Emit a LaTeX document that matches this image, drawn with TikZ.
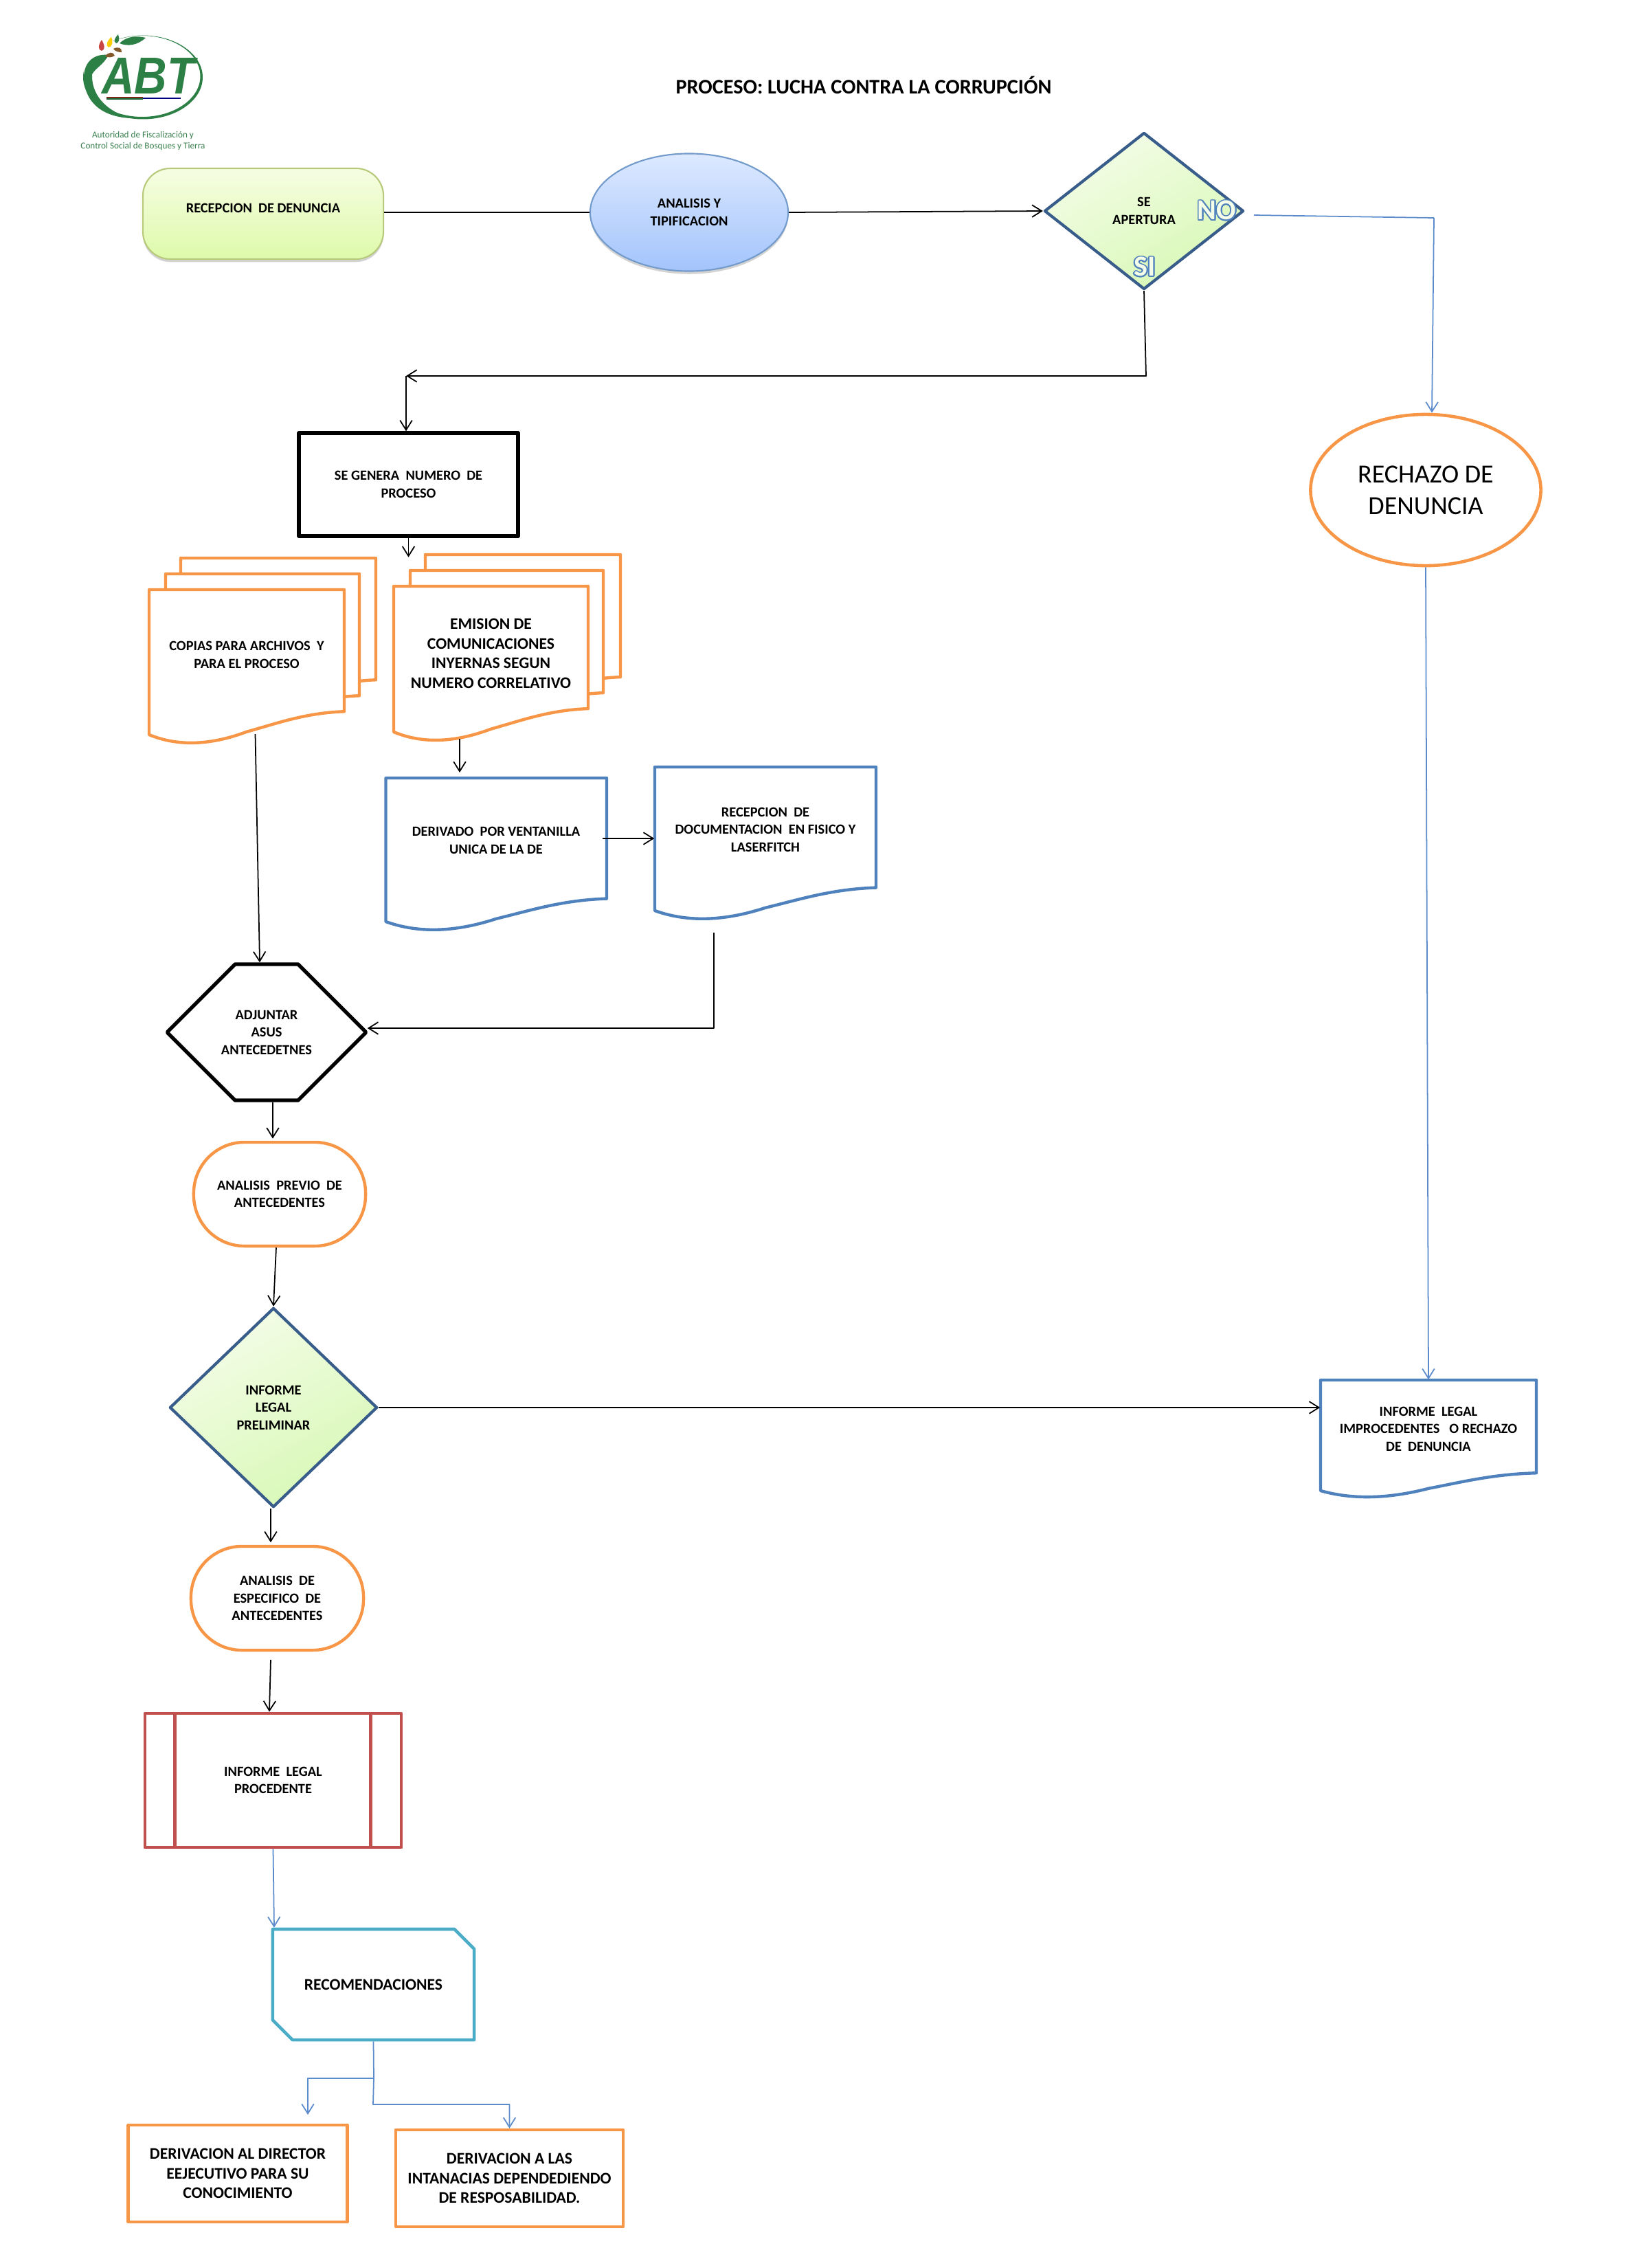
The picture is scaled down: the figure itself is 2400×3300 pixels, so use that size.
\documentclass[tikz,border=0pt]{standalone}
\usepackage{fontspec}
\setmainfont{Carlito}
\newfontfamily\logofont{Liberation Sans}
\usepackage[copies]{contour}
\usetikzlibrary{arrows.meta,backgrounds,shapes.geometric,shapes.misc,shadows}
\definecolor{naranja}{HTML}{F79646}
\definecolor{azuldoc}{HTML}{4F81BD}
\definecolor{azuldiam}{HTML}{385D8A}
\definecolor{azulflecha}{HTML}{5B8BCB}
\definecolor{rojobox}{HTML}{C0504D}
\definecolor{celeste}{HTML}{4BACC6}
\definecolor{verdelogo}{HTML}{2C7F45}
\definecolor{diamclaro}{HTML}{F4FDE8}
\definecolor{diamverde}{HTML}{D8F8B6}
\definecolor{recepclaro}{HTML}{F6FDE3}
\definecolor{recepverde}{HTML}{DEFAAA}
\definecolor{recepborde}{HTML}{B7C97A}
\definecolor{elipclaro}{HTML}{DDE9FF}
\definecolor{elipazul}{HTML}{A3C4FB}
\contourlength{.5pt}
\tikzset{
	texto/.style={font=\fontsize{5.8pt}{7.25pt}\selectfont\bfseries,align=center,inner sep=0pt},
	textog/.style={texto,font=\fontsize{6.7pt}{8.15pt}\selectfont\bfseries},
	caja/.style={texto,rectangle,line width=1.25pt,minimum width=#1},
	hoja/.style={texto,rectangle,minimum width=#1},
	decision/.style={texto,diamond,draw=azuldiam,line width=1.2pt,left color=diamclaro,right color=diamverde,shading angle=30},
	flujo/.style={black,line width=.5pt,->},
	flujoa/.style={azulflecha,line width=.5pt,->},
	marca/.style={font=\fontsize{12pt}{14pt}\selectfont\bfseries,inner sep=0pt}
}
% hoja con borde ondulado abajo: esquina, ancho, alto, color
\newcommand{\hojapath}[4]{\draw[#4,line width=1.25pt,fill=white,line join=round,shift={#1},x=#2*0.01cm,y=-#3*0.01cm]
	(0,0)--(1,0)--(1,.84) .. controls (.8,.85) and (.66,.92) .. (.5,.98) .. controls (.36,1.05) and (.18,1.1) .. (0,1)--cycle;}
\begin{document}
\begin{tikzpicture}[x=0.01cm,y=-0.01cm,line join=round,>={Straight Barb[length=4pt,width=5pt]}]
	\useasboundingbox (0,0) rectangle (2400,3300);
	%logo
	\fill[verdelogo,even odd rule] (208,112.5) ellipse (87 and 61) (207,111) ellipse (84.5 and 59);
	\fill[white] (122,60) rectangle (186,108);
	\fill[verdelogo] (174,63) .. controls (185,52) and (200,52) .. (212,55) .. controls (200,66) and (186,68) .. (174,63);
	\fill[verdelogo] (122,110) .. controls (124,85) and (142,78) .. (158,80) .. controls (150,95) and (140,98) .. (134,108) .. controls (133,135) and (150,160) .. (190,172) .. controls (150,170) and (122,150) .. (122,110);
	\fill[verdelogo] (141,89) ellipse (6 and 5);
	\fill[rojobox!85!red] (148,58) .. controls (152,65) and (154,72) .. (148,74) .. controls (142,73) and (143,65) .. (148,58);
	\fill[yellow!65!orange] (162,54) .. controls (165,60) and (164,68) .. (158,69) .. controls (153,67) and (156,59) .. (162,54);
	\fill[verdelogo] (172,50) .. controls (174,56) and (174,62) .. (169,63) .. controls (164,60) and (168,54) .. (172,50);
	\fill[brown!70!black] (153,82) .. controls (158,75) and (165,75) .. (167,81) .. controls (162,84) and (158,84) .. (153,82);
	\fill[brown!70!black] (165,71) .. controls (172,67) and (178,70) .. (177,76) .. controls (172,76) and (168,75) .. (165,71);
	\fill[verdelogo!80!black] (155,141) rectangle (208,145);
	\fill[red!70!black] (155,141) rectangle (208,142.5);
	\fill[blue!50!black] (208,142) rectangle (263,144);
	\node[text=verdelogo,inner sep=0pt] (logo) at (216,110) {\logofont\fontsize{21.5pt}{22pt}\selectfont\bfseries\itshape\scalebox{.87}[1]{ABT}};
	\node[text=verdelogo!85!gray,align=center,inner sep=0pt,font=\fontsize{3.75pt}{4.5pt}\selectfont] (logotxt) at (208,205) {Autoridad de Fiscalización y\\Control Social de Bosques y Tierra};
	\node[inner sep=0pt,font=\fontsize{8.6pt}{10pt}\selectfont\bfseries] (titulo) at (1257,124) {PROCESO: LUCHA CONTRA LA CORRUPCIÓN};
	%fila superior
	\node[texto,rectangle,rounded corners=.4cm,draw=recepborde,line width=.6pt,top color=recepclaro,bottom color=recepverde,minimum width=3.5cm,minimum height=1.32cm,drop shadow={shadow xshift=0pt,shadow yshift=-1.2pt,opacity=.35}] (recep) at (383,311) {\raisebox{4.5pt}{RECEPCION\ \ DE DENUNCIA}};
	\node[texto,ellipse,draw=azuldoc!80,line width=.6pt,top color=elipclaro,bottom color=elipazul,minimum width=2.88cm,minimum height=1.71cm,drop shadow={shadow xshift=0pt,shadow yshift=-1.2pt,opacity=.35}] (analisis) at (1003,309) {ANALISIS Y\\TIPIFICACION};
	\node[decision,minimum width=2.9cm,minimum height=2.28cm,shape aspect=1.27] (apertura) at (1665,307) {SE\\APERTURA};
	\node[marca] (marcano) at (1771,307) {\contour{azuldoc}{\textcolor{diamclaro}{NO}}};
	\node[marca] (marcasi) at (1666,389) {\contour{azuldoc}{\textcolor{diamclaro}{SI}}};
	\node[texto,ellipse,draw=naranja,line width=1.3pt,minimum width=3.35cm,minimum height=2.2cm,font=\fontsize{10.8pt}{13pt}\selectfont] (rechazo) at (2075,713) {RECHAZO DE\\DENUNCIA};
	%centro
	\node[caja=3.19cm,draw=black,line width=1.5pt,minimum height=1.5cm] (numero) at (594.5,705) {SE GENERA\ \ NUMERO\ \ DE\\PROCESO};
	\begin{pgfonlayer}{background}
		\foreach \px/\py/\pw/\ph in {263/812/284/211,241/835/282/211,619/807/284/212,597/830/281/212}
			\hojapath{(\px,\py)}{\pw}{\ph}{naranja};
		\hojapath{(217,858)}{284}{211}{naranja}
		\hojapath{(573,853)}{283}{212}{naranja}
		\hojapath{(561.5,1132)}{321.5}{209}{azuldoc}
		\hojapath{(953,1116)}{322}{209}{azuldoc}
		\hojapath{(1922,2008)}{314}{161}{azuldoc}
	\end{pgfonlayer}
	\node[hoja=2.84cm,minimum height=1.9cm] (copias) at (359,953) {COPIAS PARA ARCHIVOS\ \ Y\\PARA EL PROCESO};
	\node[hoja=2.83cm,minimum height=1.96cm,textog] (emision) at (714.5,951) {EMISION DE\\COMUNICACIONES\\INYERNAS SEGUN\\NUMERO CORRELATIVO};
	\node[hoja=3.215cm,minimum height=1.82cm] (ventanilla) at (722,1223) {DERIVADO\ \ POR VENTANILLA\\UNICA DE LA DE};
	\node[hoja=3.22cm,minimum height=1.82cm] (laser) at (1114,1207) {RECEPCION\ \ DE\\DOCUMENTACION\ \ EN FISICO Y\\LASERFITCH};
	\node[hoja=3.14cm,minimum height=1.42cm] (improc) at (2079,2079) {INFORME\ \ LEGAL\\IMPROCEDENTES\ \ \ O RECHAZO\\DE\ \ DENUNCIA};
	%columna izquierda
	\node[texto,chamfered rectangle,chamfered rectangle xsep=.59cm,chamfered rectangle ysep=.99cm,draw=black,line width=1.5pt,minimum width=2.88cm,minimum height=1.98cm] (adjuntar) at (388,1502) {ADJUNTAR\\ASUS\\ANTECEDETNES};
	\node[caja=2.5cm,draw=naranja,rounded corners=.74cm,minimum height=1.51cm] (previo) at (407,1737.5) {ANALISIS\ \ PREVIO\ \ DE\\ANTECEDENTES};
	\node[decision,minimum width=3.02cm,minimum height=2.9cm,shape aspect=1.04] (preliminar) at (398,2048) {INFORME\\LEGAL\\PRELIMINAR};
	\node[caja=2.51cm,draw=naranja,rounded corners=.74cm,minimum height=1.51cm] (especifico) at (403.5,2325.5) {ANALISIS\ \ DE\\ESPECIFICO\ \ DE\\ANTECEDENTES};
	\node[caja=3.73cm,draw=rojobox,line width=1.3pt,minimum height=1.95cm] (procedente) at (397.5,2590.5) {INFORME\ \ LEGAL\\PROCEDENTE};
	\draw[rojobox,line width=1.3pt] (procedente.north west)++(46,0)--++(0,195) (procedente.north east)++(-47,0)--++(0,195);
	\node[caja=2.93cm,chamfered rectangle,chamfered rectangle xsep=.215cm,chamfered rectangle ysep=.21cm,chamfered rectangle corners={north east,south west},draw=celeste,line width=1.3pt,minimum height=1.61cm,font=\fontsize{6.7pt}{8.15pt}\selectfont\bfseries] (recomienda) at (543.5,2887.5) {RECOMENDACIONES};
	\node[caja=3.185cm,textog,draw=naranja,minimum height=1.41cm] (director) at (346,3162.5) {DERIVACION AL DIRECTOR\\EEJECUTIVO PARA SU\\CONOCIMIENTO};
	\node[caja=3.31cm,textog,draw=naranja,minimum height=1.41cm] (instancias) at (741.5,3169.5) {DERIVACION A LAS\\INTANACIAS DEPENDEDIENDO\\DE RESPOSABILIDAD.};
	%extremos libres
	\coordinate (esquina) at (591,547);
	\coordinate (finsi) at (1668,547);
	\coordinate (iniciono) at (1825,313);
	\coordinate (esquinano) at (2087,317);
	\coordinate (iniciocop) at (371.5,1068);
	\coordinate (inicioem) at (669,1075);
	\coordinate (inicioven) at (877,1220);
	\coordinate (iniciolas) at (1039,1357);
	\coordinate (esquinalas) at (1039,1496);
	\coordinate (inicioesp) at (394,2415);
	\coordinate (codo) at (544,3024);
	\coordinate (finuno) at (448,3077);
	\coordinate (codos) at (543,3062);
	%conectores
	\draw[flujo,-] (recep.east|-analisis)--(analisis.west);
	\draw[flujo] (analisis.east)--(apertura.west);
	\draw[flujo] (apertura.south)--(finsi)--(esquina);
	\draw[flujo] (esquina)--(esquina|-numero.north);
	\draw[flujo] (numero.south)--++(0,28);
	\draw[flujo] (iniciocop)--(adjuntar.north-|378,0);
	\draw[flujo] (inicioem)--++(0,49);
	\draw[flujo] (inicioven)--(laser.west|-inicioven);
	\draw[flujo] (iniciolas)--(esquinalas)--(adjuntar.east|-esquinalas);
	\draw[flujo] (adjuntar.south-|397,0)--++(0,53);
	\draw[flujo] (previo.south-|402,0)--(preliminar.north);
	\draw[flujo] (preliminar.east)--(improc.west|-preliminar.east);
	\draw[flujo] (preliminar.south-|394,0)--++(0,49);
	\draw[flujo] (inicioesp)--(procedente.north-|392,0);
	\draw[flujoa,-] (iniciono)--(esquinano);
	\draw[flujoa] (esquinano)--(rechazo.north-|2084,0);
	\draw[flujoa] (rechazo.south)--(improc.north);
	\draw[flujoa] (procedente.south)--(recomienda.north-|399,0);
	\draw[flujoa,-] (recomienda.south)--(codo);
	\draw[flujoa] (codo)-|(finuno);
	\draw[flujoa] (codo)--(codos)-|(instancias.north);
\end{tikzpicture}
\end{document}
